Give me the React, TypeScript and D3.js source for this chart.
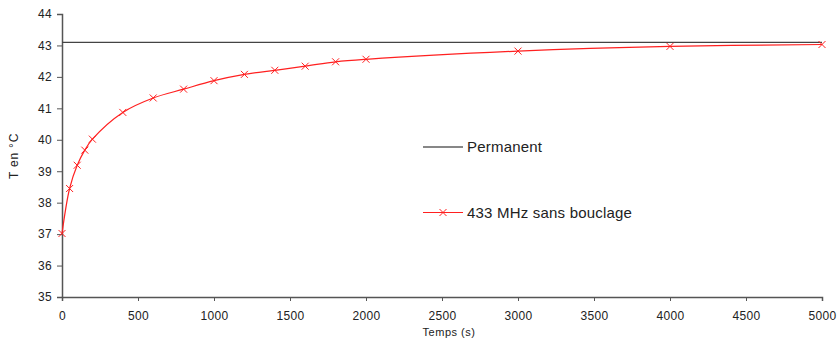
import React, { useEffect, useRef } from 'react';
import * as d3 from 'd3';

// temps (s) et température (°C)
const temps = [0, 50, 100, 150, 200, 400, 600, 800, 1000, 1200, 1400, 1600, 1800, 2000, 3000, 4000, 5000];
const temperature = [37.02, 38.45, 39.19, 39.67, 40.02, 40.87, 41.33, 41.61, 41.88, 42.08, 42.21, 42.34, 42.48, 42.56, 42.82, 42.97, 43.03];
const permanent = 43.1;
const xTicks = [0, 500, 1000, 1500, 2000, 2500, 3000, 3500, 4000, 4500, 5000];
const yTicks = [35, 36, 37, 38, 39, 40, 41, 42, 43, 44];
const legendLabels = ['Permanent', '433 MHz sans bouclage'];

const App = () => {
  const chartRef = useRef(null);

  useEffect(() => {
    const svg = d3.select(chartRef.current);
    svg.selectAll('*').remove();

    const margin = { top: 14, right: 15, bottom: 42, left: 62 };
    const width = 837 - margin.left - margin.right;
    const height = 339 - margin.top - margin.bottom;
    const font = '"Liberation Sans", Arial, sans-serif';
    const axisColor = '#555';

    const g = svg.append('g').attr('transform', `translate(${margin.left},${margin.top})`);

    const x = d3.scaleLinear().domain([0, 5000]).range([0, width]);
    const y = d3.scaleLinear().domain([35, 44]).range([height, 0]);

    // axe horizontal
    const xAxis = g.append('g')
      .attr('transform', `translate(0,${height})`)
      .call(d3.axisBottom(x).tickValues(xTicks).tickSizeOuter(0).tickSize(4).tickPadding(10).tickFormat(d3.format('d')));
    xAxis.select('.domain').attr('stroke', axisColor).attr('stroke-width', 1.5);
    xAxis.selectAll('line').attr('stroke', axisColor);
    xAxis.selectAll('text').style('font-family', font).style('font-size', '12px').style('letter-spacing', '0.3px').style('fill', '#222');

    // axe vertical
    const yAxis = g.append('g')
      .call(d3.axisLeft(y).tickValues(yTicks).tickSizeOuter(0).tickSize(5).tickPadding(5));
    yAxis.select('.domain').attr('stroke', axisColor).attr('stroke-width', 1.5);
    yAxis.selectAll('line').attr('stroke', axisColor);
    yAxis.selectAll('text').style('font-family', font).style('font-size', '12px').style('letter-spacing', '0.3px').style('fill', '#222');

    // titres des axes
    svg.append('text')
      .attr('x', 449)
      .attr('y', 336)
      .attr('text-anchor', 'middle')
      .style('font-family', font)
      .style('font-size', '11px')
      .style('letter-spacing', '0.5px')
      .style('fill', '#222')
      .text('Temps (s)');

    svg.append('text')
      .attr('transform', 'translate(18,156) rotate(-90)')
      .attr('text-anchor', 'middle')
      .style('font-family', font)
      .style('font-size', '12px')
      .style('letter-spacing', '0.8px')
      .style('fill', '#222')
      .text('T en °C');

    // régime permanent
    g.append('line')
      .attr('x1', x(0))
      .attr('x2', x(5000))
      .attr('y1', y(permanent))
      .attr('y2', y(permanent))
      .style('stroke', '#444')
      .style('stroke-width', 1.3);

    // courbe 433 MHz
    const points = temps.map((t, i) => [t, temperature[i]]);
    const line = d3.line()
      .x(d => x(d[0]))
      .y(d => y(d[1]))
      .curve(d3.curveCatmullRom.alpha(0.5));

    g.append('path')
      .datum(points)
      .attr('d', line)
      .style('fill', 'none')
      .style('stroke', '#ff2020')
      .style('stroke-width', 1.2);

    const s = 3.5;
    const drawCross = (sel, cx, cy) => {
      sel.append('path')
        .attr('d', `M${cx - s},${cy - s}L${cx + s},${cy + s}M${cx - s},${cy + s}L${cx + s},${cy - s}`)
        .style('stroke', '#ff2020')
        .style('stroke-width', 1)
        .style('fill', 'none');
    };
    points.forEach(d => drawCross(g, x(d[0]), y(d[1])));

    // légende
    const legend = svg.append('g');
    legend.append('line')
      .attr('x1', 423).attr('x2', 463).attr('y1', 147).attr('y2', 147)
      .style('stroke', '#111').style('stroke-width', 1.2);
    legend.append('text')
      .attr('x', 467).attr('y', 152)
      .style('font-family', font).style('font-size', '15px').style('letter-spacing', '0.2px').style('fill', '#222')
      .text(legendLabels[0]);

    legend.append('line')
      .attr('x1', 423).attr('x2', 463).attr('y1', 212.5).attr('y2', 212.5)
      .style('stroke', '#ff2020').style('stroke-width', 1.2);
    drawCross(legend, 443, 212.5);
    legend.append('text')
      .attr('x', 467).attr('y', 218)
      .style('font-family', font).style('font-size', '15px').style('letter-spacing', '0.2px').style('fill', '#222')
      .text(legendLabels[1]);
  }, []);

  return (
    <svg
      ref={chartRef}
      width={837}
      height={339}
      style={{ position: 'absolute', left: 0, top: 0, background: '#fff' }}
    ></svg>
  );
};

export default App;
